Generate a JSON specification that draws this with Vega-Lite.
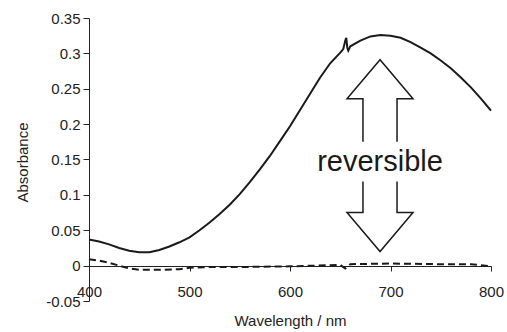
{
  "$schema": "https://vega.github.io/schema/vega-lite/v6.json",
  "width": 402,
  "height": 283,
  "autosize": {"type": "none"},
  "padding": {"left": 89, "top": 18, "right": 16, "bottom": 31},
  "background": "white",
  "config": {
    "view": {"stroke": null},
    "font": "Liberation Sans",
    "axis": {
      "grid": false,
      "domainColor": "#222222",
      "tickColor": "#222222",
      "labelColor": "#222222",
      "titleColor": "#222222",
      "labelFont": "Liberation Sans",
      "titleFont": "Liberation Sans",
      "titleFontWeight": "normal"
    }
  },
  "datasets": {
    "solid": [
      {"wavelength": 400, "absorbance": 0.037},
      {"wavelength": 410, "absorbance": 0.034},
      {"wavelength": 420, "absorbance": 0.030},
      {"wavelength": 430, "absorbance": 0.025},
      {"wavelength": 440, "absorbance": 0.021},
      {"wavelength": 450, "absorbance": 0.019},
      {"wavelength": 460, "absorbance": 0.019},
      {"wavelength": 470, "absorbance": 0.022},
      {"wavelength": 480, "absorbance": 0.027},
      {"wavelength": 490, "absorbance": 0.033},
      {"wavelength": 500, "absorbance": 0.040},
      {"wavelength": 510, "absorbance": 0.050},
      {"wavelength": 520, "absorbance": 0.061},
      {"wavelength": 530, "absorbance": 0.073},
      {"wavelength": 540, "absorbance": 0.086},
      {"wavelength": 550, "absorbance": 0.101},
      {"wavelength": 560, "absorbance": 0.118},
      {"wavelength": 570, "absorbance": 0.136},
      {"wavelength": 580, "absorbance": 0.155},
      {"wavelength": 590, "absorbance": 0.176},
      {"wavelength": 600, "absorbance": 0.197},
      {"wavelength": 610, "absorbance": 0.220},
      {"wavelength": 620, "absorbance": 0.243},
      {"wavelength": 630, "absorbance": 0.266},
      {"wavelength": 640, "absorbance": 0.286},
      {"wavelength": 650, "absorbance": 0.301},
      {"wavelength": 653, "absorbance": 0.306},
      {"wavelength": 655, "absorbance": 0.318},
      {"wavelength": 656, "absorbance": 0.322},
      {"wavelength": 657, "absorbance": 0.308},
      {"wavelength": 658, "absorbance": 0.304},
      {"wavelength": 660, "absorbance": 0.310},
      {"wavelength": 670, "absorbance": 0.318},
      {"wavelength": 680, "absorbance": 0.324},
      {"wavelength": 690, "absorbance": 0.326},
      {"wavelength": 700, "absorbance": 0.325},
      {"wavelength": 710, "absorbance": 0.322},
      {"wavelength": 720, "absorbance": 0.316},
      {"wavelength": 730, "absorbance": 0.308},
      {"wavelength": 740, "absorbance": 0.300},
      {"wavelength": 750, "absorbance": 0.290},
      {"wavelength": 760, "absorbance": 0.279},
      {"wavelength": 770, "absorbance": 0.266},
      {"wavelength": 780, "absorbance": 0.252},
      {"wavelength": 790, "absorbance": 0.236},
      {"wavelength": 800, "absorbance": 0.219}
    ],
    "dashed": [
      {"wavelength": 400, "absorbance": 0.009},
      {"wavelength": 410, "absorbance": 0.007},
      {"wavelength": 420, "absorbance": 0.004},
      {"wavelength": 430, "absorbance": 0.000},
      {"wavelength": 440, "absorbance": -0.004},
      {"wavelength": 450, "absorbance": -0.006},
      {"wavelength": 470, "absorbance": -0.006},
      {"wavelength": 490, "absorbance": -0.005},
      {"wavelength": 500, "absorbance": -0.003},
      {"wavelength": 520, "absorbance": -0.002},
      {"wavelength": 550, "absorbance": -0.002},
      {"wavelength": 600, "absorbance": -0.001},
      {"wavelength": 650, "absorbance": 0.001},
      {"wavelength": 655, "absorbance": -0.004},
      {"wavelength": 660, "absorbance": 0.002},
      {"wavelength": 700, "absorbance": 0.003},
      {"wavelength": 750, "absorbance": 0.002},
      {"wavelength": 780, "absorbance": 0.002},
      {"wavelength": 800, "absorbance": -0.001}
    ],
    "arrow": [
      {"part": "up", "order": 1, "wavelength": 672.6, "absorbance": 0.175},
      {"part": "up", "order": 2, "wavelength": 672.6, "absorbance": 0.236},
      {"part": "up", "order": 3, "wavelength": 656.7, "absorbance": 0.236},
      {"part": "up", "order": 4, "wavelength": 689.6, "absorbance": 0.291},
      {"part": "up", "order": 5, "wavelength": 722.4, "absorbance": 0.236},
      {"part": "up", "order": 6, "wavelength": 706.5, "absorbance": 0.236},
      {"part": "up", "order": 7, "wavelength": 706.5, "absorbance": 0.175},
      {"part": "down", "order": 1, "wavelength": 672.6, "absorbance": 0.119},
      {"part": "down", "order": 2, "wavelength": 672.6, "absorbance": 0.075},
      {"part": "down", "order": 3, "wavelength": 656.7, "absorbance": 0.075},
      {"part": "down", "order": 4, "wavelength": 689.6, "absorbance": 0.020},
      {"part": "down", "order": 5, "wavelength": 722.4, "absorbance": 0.075},
      {"part": "down", "order": 6, "wavelength": 706.5, "absorbance": 0.075},
      {"part": "down", "order": 7, "wavelength": 706.5, "absorbance": 0.119}
    ],
    "label": [
      {"wavelength": 689.6, "absorbance": 0.146, "text": "reversible"}
    ]
  },
  "layer": [
    {
      "data": {"name": "solid"},
      "mark": {"type": "line", "color": "#1a1a1a", "strokeWidth": 2},
      "encoding": {
        "x": {
          "field": "wavelength", "type": "quantitative",
          "scale": {"domain": [400, 800], "nice": false},
          "axis": {
            "values": [400, 500, 600, 700, 800],
            "tickCount": 20,
            "offset": -35,
            "tickSize": 5,
            "labelPadding": 13,
            "labelFontSize": 15,
            "labelOverlap": false,
            "labelFlush": false,
            "title": "Wavelength / nm",
            "titleFontSize": 15,
            "titlePadding": 14
          }
        },
        "y": {
          "field": "absorbance", "type": "quantitative",
          "scale": {"domain": [-0.05, 0.35], "nice": false, "zero": false},
          "axis": {
            "values": [-0.05, 0, 0.05, 0.1, 0.15, 0.2, 0.25, 0.3, 0.35],
            "tickCount": 20,
            "labelExpr": "'' + datum.value",
            "tickSize": 6,
            "labelPadding": 3,
            "labelFontSize": 15,
            "labelOverlap": false,
            "labelFlush": false,
            "title": "Absorbance",
            "titleFontSize": 15,
            "titleX": -67,
            "titleY": 144,
            "titleAngle": -90,
            "titleBaseline": "middle",
            "titleAlign": "center"
          }
        }
      }
    },
    {
      "data": {"name": "dashed"},
      "mark": {"type": "line", "color": "#1a1a1a", "strokeWidth": 2, "strokeDash": [7, 4]},
      "encoding": {
        "x": {"field": "wavelength", "type": "quantitative"},
        "y": {"field": "absorbance", "type": "quantitative"}
      }
    },
    {
      "data": {"name": "arrow"},
      "mark": {"type": "line", "color": "#1a1a1a", "strokeWidth": 1.5},
      "encoding": {
        "x": {"field": "wavelength", "type": "quantitative"},
        "y": {"field": "absorbance", "type": "quantitative"},
        "detail": {"field": "part"},
        "order": {"field": "order", "type": "quantitative"}
      }
    },
    {
      "data": {"name": "label"},
      "mark": {"type": "text", "font": "Liberation Sans", "fontSize": 29, "color": "#1a1a1a", "baseline": "middle", "align": "center"},
      "encoding": {
        "x": {"field": "wavelength", "type": "quantitative"},
        "y": {"field": "absorbance", "type": "quantitative"},
        "text": {"field": "text"}
      }
    }
  ]
}
